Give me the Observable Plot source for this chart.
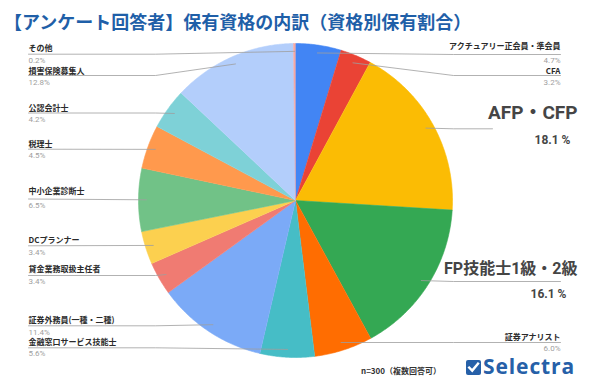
<!DOCTYPE html>
<html><head><meta charset="utf-8">
<script src="https://cdn.jsdelivr.net/npm/d3@7"></script>
<script src="https://cdn.jsdelivr.net/npm/@observablehq/plot@0.6"></script>
<style>
html,body{margin:0;padding:0;background:#fff}
body{width:590px;height:380px;overflow:hidden;position:relative;font-family:"Noto Sans CJK JP","Noto Sans",sans-serif}
#title{position:absolute;left:4px;top:8px;font-size:18px;font-weight:700;color:#1f5fa8;white-space:nowrap;line-height:26px}
#chart{position:absolute;left:0;top:40px}
#note{position:absolute;left:361px;top:365px;font-size:8px;font-weight:700;color:#333;white-space:nowrap;line-height:12px}
#check{position:absolute;left:466px;top:360px}
#brand{position:absolute;left:483px;top:355.5px;height:20px;font-family:"Open Sans",sans-serif;font-weight:700;font-size:21px;color:#2660a8;line-height:20px;letter-spacing:0.9px;white-space:nowrap}
</style>
</head><body>
<div id="title">【アンケート回答者】保有資格の内訳（資格別保有割合）</div>
<div id="chart"></div>
<div id="note">n=300（複数回答可）</div>
<svg id="check" width="15" height="15" viewBox="0 0 15 15"><rect x="0" y="0" width="15" height="15" rx="2" fill="#2660a8"/><path d="M3.2 7.6 L6.2 10.6 L12 3.6" stroke="#fff" stroke-width="2.4" fill="none" stroke-linecap="square"/></svg>
<div id="brand">Selectra</div>
<script>
// ---- data ----
const names = ["アクチュアリー正会員・準会員","CFA","AFP・CFP","FP技能士1級・2級","証券アナリスト","金融窓口サービス技能士","証券外務員(一種・二種)","貸金業務取扱主任者","DCプランナー","中小企業診断士","税理士","公認会計士","損害保険募集人","その他"];
const values = [4.7,3.2,18.1,16.1,6.0,5.6,11.4,3.4,3.4,6.5,4.5,4.2,12.8,0.2];
const colors = ["#4285f4","#ea4335","#fbbc04","#34a853","#ff6d01","#46bdc6","#7baaf7","#f07b72","#fcd04f","#71c287","#ff994d","#7ed1d7","#b3cefb","#f7a7a1"];

// ---- layout (positions of the label blocks, page px) ----
const labelSide = ["R","R","R","R","R","L","L","L","L","L","L","L","L","L"];
const labelSize = [8,8,19,16,8,8,8,8,8,8,8,8,8,8];
const nameY = [46,70.5,112.7,268.3,337,342.3,320,269.3,240,191,143.7,107.7,70.7,48.3];
const lineY = [54,75,128.3,281,342,347.3,325.3,275,245.3,198.5,148.7,112.5,75,53.7];
const pctY  = [60.2,81.7,139.3,293.3,347.8,353.3,331.7,281,251.7,205,155.3,119.3,81.7,60];
const lineEnd = [560,560,492,560,560,28,28,28,28,28,28,28,28,28];
const nameX = [560,560,577,577,560,28,28,28,28,28,28,28,28,28];
const pctX  = [560,560,570,566,560,28,28,28,28,28,28,28,28,28];

const cx = 295, cy = 200, R = 157, anchorR = 0.95 * R;
const elbowL = 155, elbowR = 453;

const pie = d3.pie().sort(null).value(d => d)(values);

const slicePts = pie.flatMap((p, i) => {
  const n = Math.max(2, Math.ceil((p.endAngle - p.startAngle) / 0.008));
  const pts = [{name: names[i], x: cx, y: cy}];
  for (let k = 0; k <= n; k++) {
    const a = p.startAngle + (p.endAngle - p.startAngle) * k / n;
    pts.push({name: names[i], x: cx + R * Math.sin(a), y: cy - R * Math.cos(a)});
  }
  return pts;
});

const leaderPts = pie.flatMap((p, i) => {
  const a = (p.startAngle + p.endAngle) / 2;
  const ax = cx + anchorR * Math.sin(a), ay = cy - anchorR * Math.cos(a);
  const ex = labelSide[i] === "L" ? elbowL : elbowR;
  const pts = [{name: names[i], x: ax, y: ay}];
  if ((labelSide[i] === "L" && ax > ex) || (labelSide[i] === "R" && ax < ex)) pts.push({name: names[i], x: ex, y: lineY[i]});
  pts.push({name: names[i], x: lineEnd[i], y: lineY[i]});
  return pts;
});

const labels = names.map((n, i) => ({
  name: n, value: values[i], side: labelSide[i], size: labelSize[i],
  nx: nameX[i], ny: nameY[i], px: pctX[i], py: pctY[i]
}));
const smallL = labels.filter(d => d.size < 10 && d.side === "L");
const smallR = labels.filter(d => d.size < 10 && d.side === "R");
const afp = labels.filter(d => d.size === 19), fp = labels.filter(d => d.size === 16);
const big = afp.concat(fp);

const nameStyle = {fontSize: 8, fontWeight: 700, fill: "#2b2b2b", fontFamily: "Noto Sans CJK JP"};
const pctStyle = {fontSize: 8, fill: "#a0a0a0", fontFamily: "Roboto"};

const chart = Plot.plot({
  width: 590, height: 340,
  margin: 0,
  x: {domain: [0, 590], range: [0, 590], axis: null},
  y: {domain: [40, 380], range: [0, 340], axis: null},
  color: {domain: names, range: colors},
  style: {background: "transparent", overflow: "visible"},
  marks: [
    Plot.line(slicePts, {x: "x", y: "y", z: "name", fill: "name", stroke: "name", strokeWidth: 0.6, curve: "linear"}),
    Plot.line(leaderPts, {x: "x", y: "y", z: "name", stroke: "#9e9e9e", strokeWidth: 0.8}),
    Plot.text(smallL, {x: "nx", y: "ny", text: "name", textAnchor: "start", ...nameStyle}),
    Plot.text(smallR, {x: "nx", y: "ny", text: "name", textAnchor: "end", ...nameStyle}),
    Plot.text(smallL, {x: "px", y: "py", text: d => d.value.toFixed(1) + "%", textAnchor: "start", ...pctStyle}),
    Plot.text(smallR, {x: "px", y: "py", text: d => d.value.toFixed(1) + "%", textAnchor: "end", ...pctStyle}),
    Plot.text(afp, {x: "nx", y: "ny", text: "name", textAnchor: "end", fontSize: 19, fontWeight: 700, fill: "#454545", fontFamily: "Roboto, 'Noto Sans CJK JP'"}),
    Plot.text(fp, {x: "nx", y: "ny", text: "name", textAnchor: "end", fontSize: 16, fontWeight: 700, fill: "#454545", fontFamily: "Roboto, 'Noto Sans CJK JP'"}),
    Plot.text(big, {x: "px", y: "py", text: d => d.value.toFixed(1) + " %", textAnchor: "end", fontSize: 12, fontWeight: 700, fill: "#454545", fontFamily: "Roboto"})
  ]
});
document.getElementById("chart").appendChild(chart);
</script>
</body></html>
